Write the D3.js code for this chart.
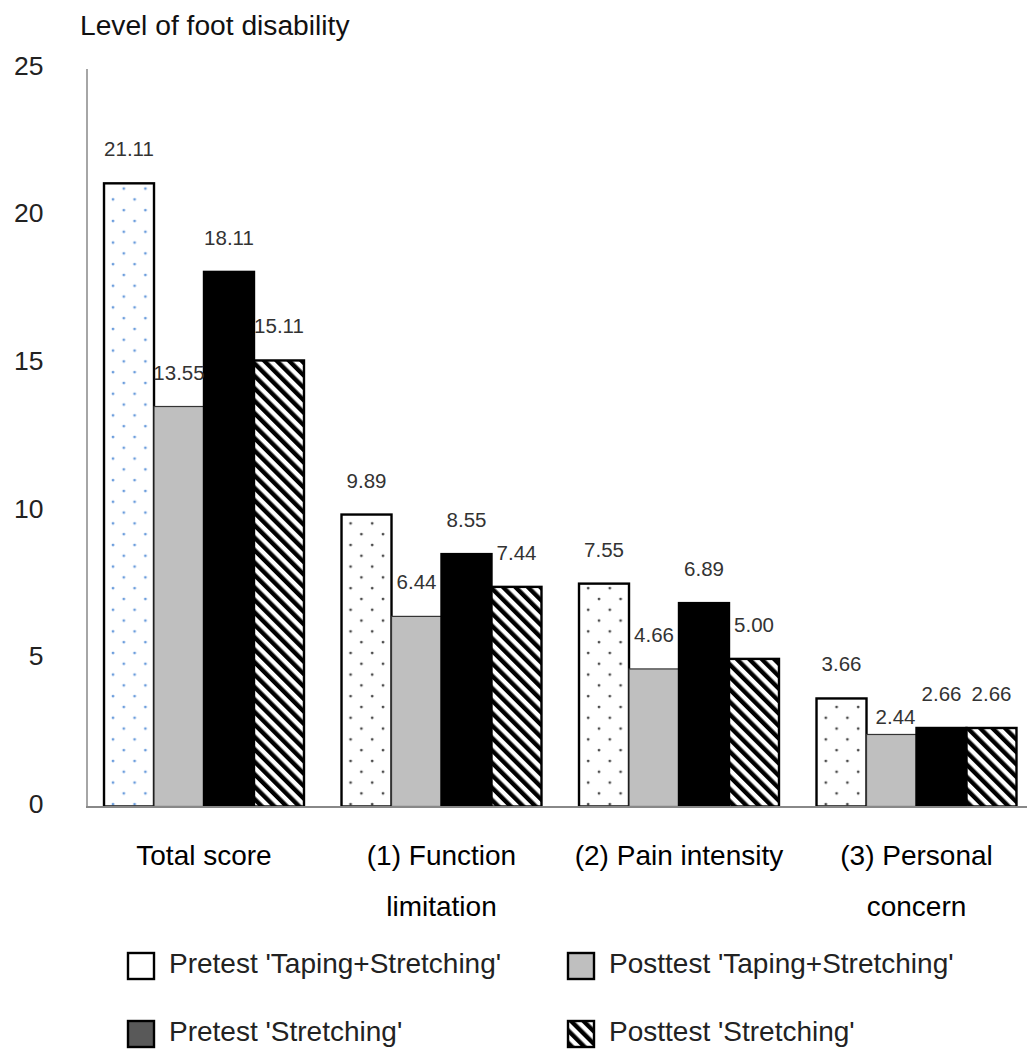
<!DOCTYPE html>
<html><head><meta charset="utf-8">
<script src="https://cdn.jsdelivr.net/npm/d3@7"></script>
<style>body{margin:0;background:#fff} text{font-family:"Liberation Sans",Arial,sans-serif}</style>
</head><body><svg id="c" width="1027" height="1050"></svg>
<script>
const categories = ["Total score","(1) Function limitation","(2) Pain intensity","(3) Personal concern"];
const categoryLines = [["Total score"],["(1) Function","limitation"],["(2) Pain intensity"],["(3) Personal","concern"]];
const seriesNames = ["Pretest 'Taping+Stretching'","Posttest 'Taping+Stretching'","Pretest 'Stretching'","Posttest 'Stretching'"];
const pretestTaping  = [21.11, 9.89, 7.55, 3.66];
const posttestTaping = [13.55, 6.44, 4.66, 2.44];
const pretestStretch = [18.11, 8.55, 6.89, 2.66];
const posttestStretch= [15.11, 7.44, 5.00, 2.66];
const yTicks = [0,5,10,15,20,25];
const yTitle = "Level of foot disability";

const seriesValues = [pretestTaping, posttestTaping, pretestStretch, posttestStretch];

const svg = d3.select("#c");
const defs = svg.append("defs");

function dotPattern(id, color){
  const p = defs.append("pattern").attr("id", id).attr("patternUnits","userSpaceOnUse")
    .attr("width", 21.6).attr("height", 21.6).attr("x", 0).attr("y", 0);
  p.append("rect").attr("width",21.6).attr("height",21.6).attr("fill","#fff");
  p.append("circle").attr("cx", 5).attr("cy", 5).attr("r", 1.4).attr("fill", color);
  p.append("circle").attr("cx", 15.8).attr("cy", 15.8).attr("r", 1.4).attr("fill", color);
}
dotPattern("dotsBlue", "#6a9cdc");
dotPattern("dotsGray", "#4a4a4a");
const hatch = defs.append("pattern").attr("id","hatch").attr("patternUnits","userSpaceOnUse")
  .attr("width", 8.8).attr("height", 8.8).attr("patternTransform","rotate(-45)");
hatch.append("rect").attr("width",8.8).attr("height",8.8).attr("fill","#fff");
hatch.append("rect").attr("width",4.4).attr("height",8.8).attr("fill","#000");

const y = d3.scaleLinear().domain([0,25]).range([806.5, 68.5]);
const x0 = d3.scaleBand().domain(categories).range([85.25, 1035.25]).paddingInner(0.158).paddingOuter(0.079);
const x1 = d3.scaleBand().domain(seriesNames).range([0, x0.bandwidth()]);

// title
svg.append("text").attr("x", 80).attr("y", 35).attr("font-size", 28.2).attr("fill","#111").text(yTitle);

// y axis
const ya = svg.append("g").attr("transform","translate(86.5,0)")
  .call(d3.axisLeft(y).tickValues(yTicks).tickSize(0).tickSizeOuter(0).tickPadding(43));
ya.select(".domain").attr("stroke","#888").attr("stroke-width",1.5);
ya.selectAll("text").attr("font-size",26.5).attr("fill","#222").attr("dy","0.22em")
  .style("font-family",'"Liberation Sans",Arial,sans-serif');

function fillFor(ci, si){
  if (si === 0) return ci === 0 ? "url(#dotsBlue)" : "url(#dotsGray)";
  if (si === 1) return "#bfbfbf";
  if (si === 2) return "#000";
  return "url(#hatch)";
}

const data = [];
categories.forEach((c, ci) => seriesNames.forEach((s, si) => data.push({c, ci, s, si, v: seriesValues[si][ci]})));

svg.append("g").selectAll("rect").data(data).join("rect")
  .attr("x", d => x0(d.c) + x1(d.s))
  .attr("y", d => y(d.v))
  .attr("width", x1.bandwidth())
  .attr("height", d => y(0) - y(d.v))
  .attr("fill", d => fillFor(d.ci, d.si))
  .attr("stroke", d => d.si === 1 ? "#333" : "#000")
  .attr("stroke-width", d => d.si === 1 ? 1.2 : 2.4);

// x axis line
svg.append("line").attr("x1", 86).attr("x2", 1027).attr("y1", y(0)+0.5).attr("y2", y(0)+0.5)
  .attr("stroke","#888").attr("stroke-width",2);

// value labels
const fmt = d3.format(".2f");
const nudge = d => (d.ci === 3 && d.si === 1) ? {dx: 4, lift: 10} : {dx: 0, lift: 27};
svg.append("g").selectAll("text").data(data).join("text")
  .attr("x", d => x0(d.c) + x1(d.s) + x1.bandwidth()/2 + nudge(d).dx)
  .attr("y", d => y(d.v) - nudge(d).lift)
  .attr("text-anchor","middle").attr("font-size",20.5).attr("fill","#333")
  .text(d => fmt(d.v));

// category labels
const cl = svg.append("g").selectAll("text").data(categories).join("text")
  .attr("x", d => x0(d) + x0.bandwidth()/2)
  .attr("text-anchor","middle").attr("font-size",28).attr("fill","#000");
cl.each(function(d, i){
  const t = d3.select(this);
  categoryLines[i].forEach((line, li) => {
    t.append("tspan").attr("x", x0(d) + x0.bandwidth()/2).attr("y", 865 + li*51).text(line);
  });
});

// legend
const legendFills = ["#fff", "#bfbfbf", "#595959", "url(#hatch)"];
const lg = svg.append("g").selectAll("g").data(seriesNames).join("g")
  .attr("transform", (d,i) => `translate(${[128,568][i%2]},${[953,1021][Math.floor(i/2)]})`);
lg.append("rect").attr("width",26).attr("height",26).attr("fill",(d,i)=>legendFills[i])
  .attr("stroke","#000").attr("stroke-width",2.4);
lg.append("text").attr("x",41).attr("y",19.5).attr("font-size",28).attr("fill","#222").text(d=>d);
</script></body></html>
